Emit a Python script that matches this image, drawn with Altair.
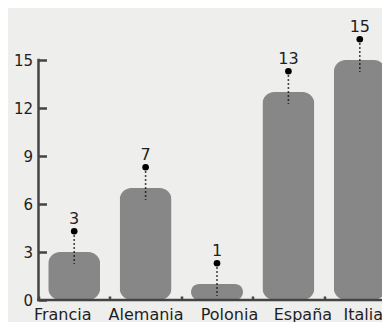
import altair as alt
import pandas as pd

paises = ["Francia", "Alemania", "Polonia", "España", "Italia"]
valores = [3, 7, 1, 13, 15]
y_ticks = [0, 3, 6, 9, 12, 15]

df = pd.DataFrame({"pais": paises, "valor": valores})

FONT = "DejaVu Sans"
BG = "#eeeeec"
AXIS = "#444444"
TXT = "#1e1e1e"

xscale = alt.Scale(domain=paises, range=[0, 357], paddingInner=0, paddingOuter=0)
yscale = alt.Scale(domain=[0, 15], nice=False)

x_axis = alt.Axis(
    domain=False, ticks=True, tickSize=4, tickWidth=2.5, tickColor=AXIS,
    tickBand="extent", offset=-4, labelPadding=6, labelFont=FONT,
    labelFontSize=16, labelColor=TXT, labelAngle=0, title=None,
    labelOffset={"condition": [
        {"test": "datum.value == 'Francia'", "value": -12},
        {"test": "datum.value == 'Polonia'", "value": 12},
        {"test": "datum.value == 'España'", "value": 14},
        {"test": "datum.value == 'Italia'", "value": 3},
    ], "value": 0},
)
y_axis = alt.Axis(
    values=y_ticks, domain=False, ticks=True, tickSize=8, tickWidth=2.5,
    tickColor=AXIS, offset=-8, labelPadding=6, labelFont=FONT,
    labelFontSize=15, labelColor=TXT, grid=False, title=None,
)

X = alt.X("pais:N", sort=paises, scale=xscale, axis=x_axis)

base = alt.Chart(df).transform_calculate(
    top="datum.valor + 1.3", low="datum.valor - 0.75"
)

bars = base.mark_bar(size=52, cornerRadius=12, color="#878787").encode(
    x=X, y=alt.Y("valor:Q", scale=yscale, axis=y_axis)
)
stems = base.mark_rule(strokeDash=[1.5, 2.5], strokeWidth=1.6, color="#111111").encode(
    x=alt.X("pais:N", sort=paises), y="top:Q", y2="low:Q"
)
dots = base.mark_circle(size=44, color="#000000", opacity=1).encode(
    x=alt.X("pais:N", sort=paises), y="top:Q"
)
labels = base.mark_text(dy=-7, baseline="alphabetic", fontSize=16, font=FONT,
                        color=TXT).encode(
    x=alt.X("pais:N", sort=paises), y="top:Q", text="valor:Q"
)

one = alt.Chart(pd.DataFrame({"a": [0]}))
y_domain = one.mark_rule(color=AXIS, strokeWidth=2.5, strokeCap="square").encode(
    x=alt.value(0), y=alt.datum(0), y2=alt.datum(15)
)
x_domain = one.mark_rule(color=AXIS, strokeWidth=2.5, strokeCap="square").encode(
    y=alt.datum(0), x=alt.value(0), x2=alt.value(357)
)

chart = alt.layer(bars, stems, dots, labels, y_domain, x_domain).properties(
    width=343.5, height=240,
    autosize=alt.AutoSizeParams(type="none"),
    padding={"left": 30.5, "top": 52, "right": 0, "bottom": 24},
    background=BG,
).configure_view(stroke=None)

chart.save("out.html", embed_options={"renderer": "svg", "actions": False})
